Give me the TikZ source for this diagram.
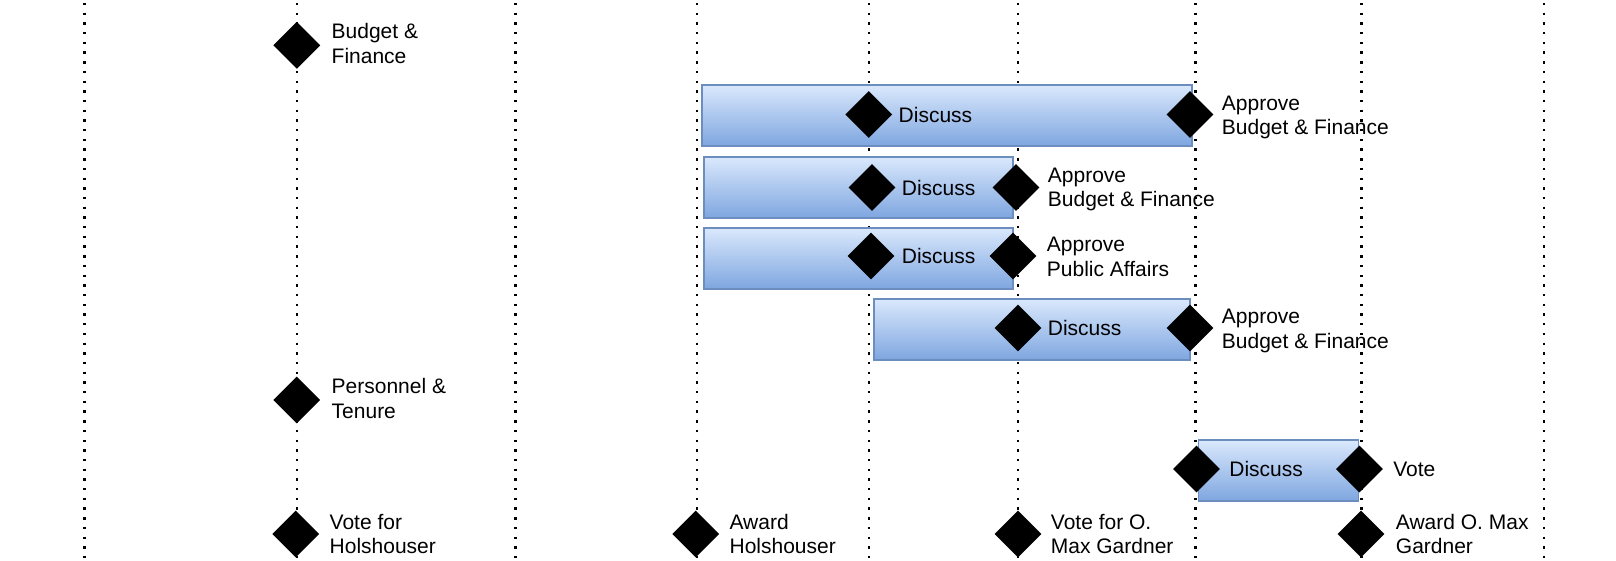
\documentclass[tikz,border=0pt]{standalone}
\usepackage{fontspec}
\setmainfont{Liberation Sans}
\usetikzlibrary{shapes.geometric}
\usetikzlibrary{positioning}
\definecolor{barTop}{HTML}{DAE8FC}
\definecolor{barBottom}{HTML}{7EA6E0}
\definecolor{barLine}{HTML}{6C8EBF}
\begin{document}
\begin{tikzpicture}[x=1pt, y=-1pt]
        % Define styles for shapes
        \tikzstyle{milestone} = [diamond, fill=black, minimum width=47pt, minimum height=47pt, inner sep=0pt]
        \tikzstyle{task} = [draw=barLine, line width=1.8pt, top color=barTop, bottom color=barBottom, minimum height=61pt, inner sep=0pt]
        \tikzstyle{lbl} = [font=\fontsize{21}{24.9}\selectfont, align=left, inner sep=0pt]
        \tikzstyle{grid} = [line width=2.4pt, dash pattern=on 2.4pt off 7.3pt]
        \useasboundingbox (0,0) rectangle (1616,561);

        % Draw time grid
        \foreach \gx in {84.5, 296.8, 515.3, 696.7, 868.8, 1018.2, 1195.5, 1361.4, 1543.8}
            \draw[grid] (\gx,3) -- (\gx,561);

        % Draw bars
        \node[task, minimum width=490pt] (bar1) at (947, 115.5) {};
        \node[task, minimum width=309pt] (bar2) at (858.5, 187.5) {};
        \node[task, minimum width=309pt] (bar3) at (858.5, 258.5) {};
        \node[task, minimum width=316pt] (bar4) at (1032, 329.5) {};
        \node[task, minimum width=160pt] (bar5) at (1278.5, 470.5) {};

        % Draw milestones
        \node[milestone] (bf) at (296.8, 45.3) {};
        \node[milestone] (pt) at (296.8, 400) {};

        \node[milestone] (d1) at (868.8, 114.5) {};
        \node[milestone] (a1) at (1190, 114.5) {};
        \node[milestone] (d2) at (872, 187.5) {};
        \node[milestone] (a2) at (1016, 187.5) {};
        \node[milestone] (d3) at (871, 256) {};
        \node[milestone] (a3) at (1013, 256) {};
        \node[milestone] (d4) at (1018, 328) {};
        \node[milestone] (a4) at (1190, 328) {};
        \node[milestone] (d5) at (1196.5, 469) {};
        \node[milestone] (v5) at (1359.4, 469) {};

        \node[milestone] (vh) at (295.8, 534) {};
        \node[milestone] (ah) at (695.7, 534) {};
        \node[milestone] (vg) at (1018, 534) {};
        \node[milestone] (ag) at (1361, 534) {};

        % Draw labels
        \node[lbl, right=11pt of bf, yshift=2pt] (bfText) {Budget \&\\Finance};
        \node[lbl, right=11pt of pt, yshift=1.5pt] (ptText) {Personnel \&\\Tenure};

        \node[lbl, right=6pt of d1] (d1Text) {Discuss};
        \node[lbl, right=8pt of a1, yshift=-3pt] (a1Text) {Approve\\Budget \& Finance};
        \node[lbl, right=6pt of d2] (d2Text) {Discuss};
        \node[lbl, right=8pt of a2, yshift=-2pt] (a2Text) {Approve\\Budget \& Finance};
        \node[lbl, right=7pt of d3] (d3Text) {Discuss};
        \node[lbl, right=10pt of a3, yshift=-1pt] (a3Text) {Approve\\Public Affairs};
        \node[lbl, right=6pt of d4] (d4Text) {Discuss};
        \node[lbl, right=8pt of a4, yshift=-3pt] (a4Text) {Approve\\Budget \& Finance};
        \node[lbl, right=9pt of d5] (d5Text) {Discuss};
        \node[lbl, right=10pt of v5] (v5Text) {Vote};

        \node[lbl, right=10pt of vh] (vhText) {Vote for\\Holshouser};
        \node[lbl, right=10pt of ah] (ahText) {Award\\Holshouser};
        \node[lbl, right=9pt of vg] (vgText) {Vote for O.\\Max Gardner};
        \node[lbl, right=11pt of ag] (agText) {Award O. Max\\Gardner};
    \end{tikzpicture}
\end{document}
